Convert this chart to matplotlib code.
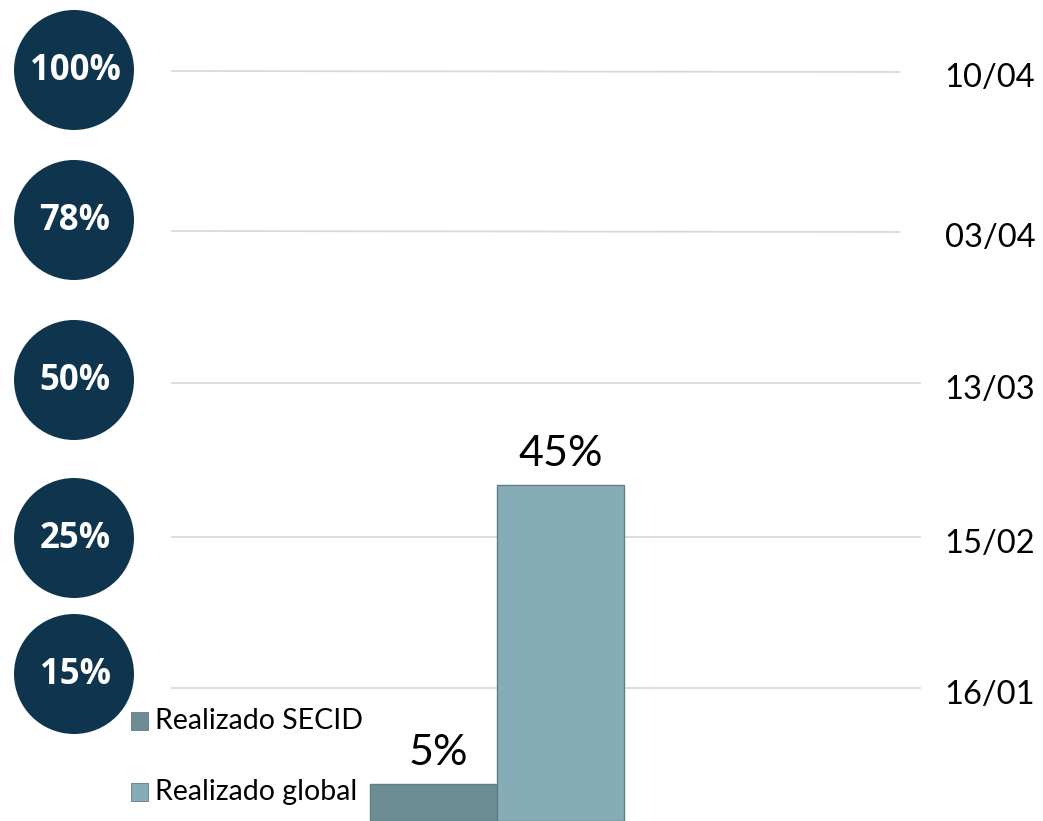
import matplotlib.pyplot as plt
from matplotlib.patches import Circle

# data
milestones = ['100%', '78%', '50%', '25%', '15%']
dates = ['10/04', '03/04', '13/03', '15/02', '16/01']
series = ['Realizado SECID', 'Realizado global']
values = [5, 45]
colors = ['#6e8c94', '#86adb7']

# layout (pixel rows of the milestone rows, top to bottom)
line_y = [71, 231, 383, 537, 688]
circle_y = [70, 220, 380, 538, 674]
line_end = [899, 899, 920, 920, 920]

W, H = 1043, 821
fig = plt.figure(figsize=(W / 100, H / 100), dpi=100)
plt.rcParams['font.family'] = ['Lato', 'DejaVu Sans']

# overlay axes in pixel units for the milestone decoration
ov = fig.add_axes([0, 0, 1, 1])
ov.set_xlim(0, W)
ov.set_ylim(H, 0)
ov.axis('off')

for lab, d, ly, cy, xe in zip(milestones, dates, line_y, circle_y, line_end):
    ov.plot([172, xe], [ly, ly + (1 if xe < 910 else 0)], color='#d9d9d9', lw=1.3, zorder=1)
    ov.add_patch(Circle((74, cy), 60, facecolor='#0f344d', edgecolor='none', zorder=2))
    ov.text(75, cy + 1, lab, color='white', fontsize=25, fontweight='bold',
            family=['Open Sans', 'DejaVu Sans'], ha='center', va='center', zorder=3)
    ov.text(990, ly + 7, d, color='black', fontsize=23.5, ha='center', va='center')

# bar axes
ax = fig.add_axes([0, 0, 1, 1], facecolor='none')
x = [0, 1]
bars = ax.bar(x, values, width=1, color=colors, edgecolor='#5e7d85', linewidth=1, zorder=3)
ax.set_xlim(-433.5 / 127, (W - 433.5) / 127)
ax.set_ylim(0, 110)
ax.axis('off')
for b, v in zip(bars, values):
    ax.text(b.get_x() + b.get_width() / 2 + (5 if v < 10 else 0) / 127, v + 1.6, f'{v}%',
            ha='center', va='bottom', fontsize=31, color='black')

# legend
leg_y = [721, 792]
for s, c, ly in zip(series, colors, leg_y):
    ov.add_patch(plt.Rectangle((131, ly - 9), 17, 18, facecolor=c, edgecolor='#5e7d85', lw=0.6, zorder=4))
    ov.text(155, ly, s, fontsize=20.5, ha='left', va='center', color='black', zorder=4)

plt.savefig('out.png', dpi=100)
